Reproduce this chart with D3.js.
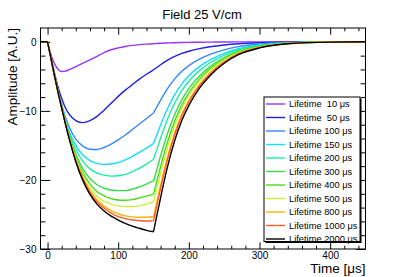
<!DOCTYPE html>
<html>
<head>
<meta charset="utf-8">
<script src="https://cdn.jsdelivr.net/npm/d3@7"></script>
<style>
body { margin: 0; background: #fff; }
svg { display: block; font-family: "Liberation Sans", Arial, sans-serif; }
text { white-space: pre; }
</style>
</head>
<body>
<svg></svg>
<script>
// sample times (µs), shared by all curves
let timesUs = [-10, 0, 5, 10, 15, 20, 25, 30, 40, 50, 60, 70, 80, 90, 100, 110, 120, 130, 140, 150,
  155, 160, 170, 180, 190, 200, 215, 230, 250, 270, 300, 340, 400, 450]

let lifetimes = ['Lifetime  10 μs', 'Lifetime  50 μs', 'Lifetime 100 μs', 'Lifetime 150 μs', 'Lifetime 200 μs',
  'Lifetime 300 μs', 'Lifetime 400 μs', 'Lifetime 500 μs', 'Lifetime 800 μs', 'Lifetime 1000 μs', 'Lifetime 2000 μs']

let amp10 = [0, 0, -1.9, -3.2, -4.0, -4.3, -4.25, -4.05, -3.6, -3.1, -2.6, -2.1, -1.55, -1.15, -0.88, -0.67, -0.52, -0.41, -0.33, -0.27,
  -0.24, -0.21, -0.17, -0.13, -0.1, -0.08, -0.06, -0.04, -0.02, -0.01, -0.005, 0, 0, 0]
let amp50 = [0, 0, -2.4, -4.6, -6.6, -8.2, -9.5, -10.4, -11.4, -11.7, -11.4, -10.8, -9.9, -8.9, -7.9, -7.0, -6.2, -5.4, -4.7, -4.05,
  -3.69, -3.32, -2.65, -2.11, -1.68, -1.36, -0.99, -0.72, -0.46, -0.28, -0.13, -0.04, -0.01, 0]
let amp100 = [0, 0, -2.5, -4.9, -7.1, -9.1, -10.8, -12.2, -14.1, -15.1, -15.55, -15.6, -15.3, -14.8, -14.2, -13.5, -12.7, -11.9, -11.1, -10.3,
  -9.37, -8.45, -6.75, -5.36, -4.27, -3.45, -2.52, -1.83, -1.16, -0.7, -0.33, -0.1, -0.015, 0]
let amp150 = [0, 0, -2.5, -5.0, -7.2, -9.3, -11.2, -12.8, -15.0, -16.4, -17.2, -17.6, -17.75, -17.7, -17.5, -17.1, -16.6, -16.0, -15.4, -14.7,
  -13.38, -12.05, -9.63, -7.64, -6.1, -4.92, -3.6, -2.62, -1.66, -1.0, -0.47, -0.15, -0.02, 0]
let amp200 = [0, 0, -2.5, -5.0, -7.3, -9.4, -11.4, -13.1, -15.6, -17.3, -18.4, -19.0, -19.3, -19.45, -19.4, -19.2, -18.8, -18.3, -17.7, -17.0,
  -15.47, -13.94, -11.14, -8.84, -7.06, -5.7, -4.17, -3.03, -1.92, -1.16, -0.54, -0.17, -0.03, 0]
let amp300 = [0, 0, -2.5, -5.0, -7.3, -9.5, -11.5, -13.4, -16.3, -18.4, -19.8, -20.7, -21.2, -21.45, -21.55, -21.55, -21.35, -21.0, -20.6, -20.15,
  -18.34, -16.52, -13.2, -10.48, -8.36, -6.75, -4.94, -3.59, -2.28, -1.37, -0.64, -0.2, -0.03, 0]
let amp400 = [0, 0, -2.5, -5.0, -7.3, -9.5, -11.6, -13.5, -16.7, -19.0, -20.6, -21.7, -22.3, -22.7, -22.9, -22.95, -22.85, -22.6, -22.35, -22.05,
  -20.07, -18.08, -14.44, -11.47, -9.15, -7.39, -5.4, -3.92, -2.49, -1.5, -0.71, -0.22, -0.03, 0]
let amp500 = [0, 0, -2.5, -5.0, -7.35, -9.6, -11.7, -13.6, -16.9, -19.4, -21.2, -22.4, -23.1, -23.5, -23.75, -23.85, -23.85, -23.75, -23.5, -23.2,
  -21.11, -19.02, -15.2, -12.06, -9.63, -7.77, -5.68, -4.13, -2.62, -1.58, -0.74, -0.23, -0.03, 0]
let amp800 = [0, 0, -2.5, -5.0, -7.35, -9.6, -11.7, -13.7, -17.1, -19.7, -21.6, -22.9, -23.8, -24.45, -24.9, -25.2, -25.35, -25.4, -25.4, -25.3,
  -23.02, -20.75, -16.57, -13.16, -10.5, -8.48, -6.2, -4.5, -2.86, -1.72, -0.81, -0.25, -0.04, 0]
let amp1000 = [0, 0, -2.5, -5.0, -7.35, -9.6, -11.75, -13.75, -17.2, -19.8, -21.8, -23.2, -24.1, -24.8, -25.3, -25.6, -25.8, -25.9, -25.95, -25.9,
  -23.57, -21.24, -16.96, -13.47, -10.75, -8.68, -6.35, -4.61, -2.93, -1.76, -0.83, -0.26, -0.04, 0]
let amp2000 = [0, 0, -2.5, -5.0, -7.4, -9.6, -11.8, -13.8, -17.4, -20.1, -22.1, -23.5, -24.5, -25.25, -25.8, -26.3, -26.7, -27.0, -27.3, -27.5,
  -25.0, -22.55, -18.0, -14.3, -11.4, -9.2, -6.7, -4.9, -3.1, -1.87, -0.88, -0.28, -0.04, 0]

let allAmps = [amp10, amp50, amp100, amp150, amp200, amp300, amp400, amp500, amp800, amp1000, amp2000]
let lineColors = ['#9933ff', '#1f1fe6', '#3388ff', '#11ddff', '#1af0a0', '#33dd44', '#44dd11', '#c8f03c', '#ffb300', '#ff5a28', '#000000']

let xMajor = [0, 100, 200, 300, 400]
let yMajor = [-30, -20, -10, 0]

let w = 407
let h = 277
let frameL = 40.5, frameR = 365.5, frameT = 28, frameB = 249

let svg = d3.select('svg').attr('width', w).attr('height', h)

let xScale = d3.scaleLinear().domain([-10, 450]).range([frameL, frameR])
let yScale = d3.scaleLinear().domain([-30, 2]).range([frameB, frameT])

let xMinor = d3.range(20, 450, 20).filter(d => !xMajor.includes(d))
let yMinor = d3.range(-28, 2, 2).filter(d => !yMajor.includes(d))

let xTick = 6.6, yTick = 9.75

let addAxis = (axis, transform, values, size, labels, pad) => {
  let g = svg.append('g')
    .attr('transform', transform)
    .call(axis.tickValues(values).tickSize(-size).tickPadding(pad || 4).tickFormat(labels ? null : ''))
  g.select('.domain').remove()
  g.selectAll('line').attr('stroke', '#000').attr('stroke-width', 1)
  g.selectAll('text').attr('font-size', 10).attr('font-family', '"Liberation Sans", Arial, sans-serif').attr('fill', '#000')
  return g
}

// bottom / top
addAxis(d3.axisBottom(xScale), `translate(0,${frameB})`, xMajor, xTick, true, 3)
addAxis(d3.axisBottom(xScale), `translate(0,${frameB})`, xMinor, xTick / 2, false)
addAxis(d3.axisTop(xScale), `translate(0,${frameT})`, xMajor, xTick, false)
addAxis(d3.axisTop(xScale), `translate(0,${frameT})`, xMinor, xTick / 2, false)
// left / right
addAxis(d3.axisLeft(yScale), `translate(${frameL},0)`, yMajor, yTick, true)
addAxis(d3.axisLeft(yScale), `translate(${frameL},0)`, yMinor, yTick / 2, false)
addAxis(d3.axisRight(yScale), `translate(${frameR},0)`, yMajor, yTick, false)
addAxis(d3.axisRight(yScale), `translate(${frameR},0)`, yMinor, yTick / 2, false)

svg.append('clipPath').attr('id', 'plot')
  .append('rect').attr('x', frameL).attr('y', frameT).attr('width', frameR - frameL).attr('height', frameB - frameT)

let line = d3.line()
  .x(d => xScale(d[0]))
  .y(d => yScale(d[1]))
  .curve(d3.curveMonotoneX)

// split at the start of the pulse and at the end of the drift so the corners stay sharp
let pathFor = (vals) => {
  let pts = timesUs.map((t, i) => [t, vals[i]])
  let segs = [pts.filter(p => p[0] <= 0), pts.filter(p => p[0] >= 0 && p[0] <= 150), pts.filter(p => p[0] >= 150)]
  return segs.map(s => line(s)).join('')
}

svg.append('g').attr('clip-path', 'url(#plot)')
  .selectAll('path')
  .data(allAmps)
  .enter()
  .append('path')
  .attr('d', d => pathFor(d))
  .attr('fill', 'none')
  .attr('stroke', (d, i) => lineColors[i])
  .attr('stroke-width', 1.4)

// frame
svg.append('rect')
  .attr('x', frameL).attr('y', frameT)
  .attr('width', frameR - frameL).attr('height', frameB - frameT)
  .attr('fill', 'none').attr('stroke', '#000').attr('stroke-width', 1)

// titles
svg.append('text')
  .attr('x', 202).attr('y', 18.5)
  .attr('text-anchor', 'middle')
  .attr('font-size', 13)
  .text('Field 25 V/cm')

svg.append('text')
  .attr('x', frameR).attr('y', 272.5)
  .attr('text-anchor', 'end')
  .attr('font-size', 13.5)
  .text('Time [μs]')

svg.append('text')
  .attr('transform', `translate(16.5,${frameT}) rotate(-90)`)
  .attr('text-anchor', 'end')
  .attr('font-size', 13.5)
  .text('Amplitude [A.U.]')

// legend
let lx = 264, ly = 97, lw = 96, lh = 144.5
svg.append('rect').attr('x', lx + 1.5).attr('y', ly + 1.5).attr('width', lw).attr('height', lh).attr('fill', '#000')
svg.append('rect').attr('x', lx).attr('y', ly).attr('width', lw).attr('height', lh)
  .attr('fill', '#fff').attr('stroke', '#000').attr('stroke-width', 1)

let legend = svg.append('g')
  .selectAll('g')
  .data(lifetimes)
  .enter()
  .append('g')
  .attr('transform', (d, i) => `translate(0,${104 + i * 13.5})`)

legend.append('line')
  .attr('x1', 266).attr('x2', 285)
  .attr('stroke', (d, i) => lineColors[i])
  .attr('stroke-width', 1.4)

legend.append('text')
  .attr('x', 289).attr('y', 3.3)
  .attr('font-size', 9.3)
  .text(d => d)
</script>
</body>
</html>
